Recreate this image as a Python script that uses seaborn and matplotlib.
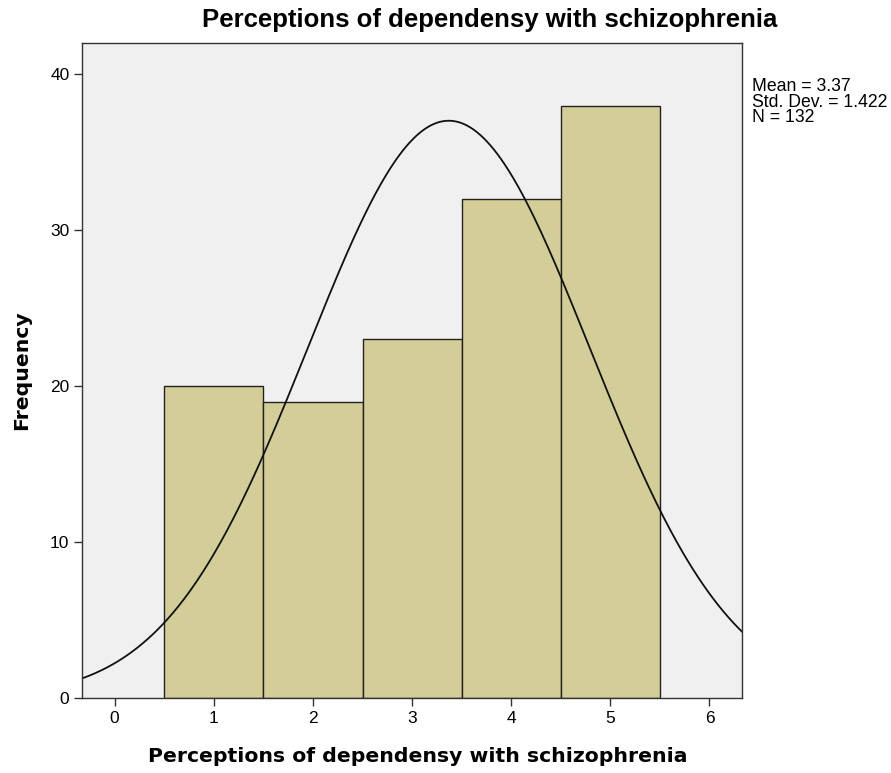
import numpy as np
import pandas as pd
import matplotlib.pyplot as plt
import seaborn as sns

scores = [1, 2, 3, 4, 5]
frequences = [20, 19, 23, 32, 38]
moyenne = 3.37
ecart_type = 1.422
n_total = 132

sns.set_style("white")
plt.rcParams["font.family"] = ["Liberation Sans", "DejaVu Sans"]

data = pd.DataFrame({"score": np.repeat(scores, frequences)})

fig = plt.figure(figsize=(8.91, 7.73), dpi=100)
ax = fig.add_axes([0.092, 0.097, 0.741, 0.847])
ax.set_facecolor("#F0F0F0")

sns.histplot(data=data, x="score", bins=np.arange(0.5, 6.0, 1.0),
             color="#D3CE98", alpha=1, edgecolor="#222222", linewidth=1, ax=ax)

# Courbe normale
xs = np.linspace(-0.4, 6.4, 400)
ys = n_total * np.exp(-0.5 * ((xs - moyenne) / ecart_type) ** 2) / (ecart_type * np.sqrt(2 * np.pi))
ax.plot(xs, ys, color="#111111", linewidth=1.3)

ax.set_xlim(-0.33, 6.33)
ax.set_ylim(0, 42)
ax.set_xticks(range(0, 7))
ax.set_yticks([0, 10, 20, 30, 40])
ax.tick_params(axis="both", direction="out", length=6, width=1, labelsize=12.5,
               color="#333333", labelcolor="black", bottom=True, left=True, pad=3)
for s in ax.spines.values():
    s.set_color("#333333")
    s.set_linewidth(1)

ax.set_xlabel("")
ax.set_ylabel("")
fig.text(418 / 891, 1 - 757 / 773, "Perceptions of dependensy with schizophrenia",
         ha="center", va="center", fontsize=14.7, fontweight="bold",
         family="DejaVu Sans", color="black")
fig.text(22 / 891, 1 - 370 / 773, "Frequency", ha="center", va="center",
         rotation=90, fontsize=14.7, fontweight="bold", family="DejaVu Sans",
         color="black")
fig.text(490 / 891, 1 - 20 / 773, "Perceptions of dependensy with schizophrenia",
         ha="center", va="center", fontsize=18.5, fontweight="bold", color="black")
fig.text(752 / 891, 1 - 78 / 773,
         f"Mean = {moyenne}\nStd. Dev. = {ecart_type}\nN = {n_total}",
         ha="left", va="top", fontsize=12.7, linespacing=0.9, color="black")

plt.savefig("out.png", dpi=100)
plt.close()
